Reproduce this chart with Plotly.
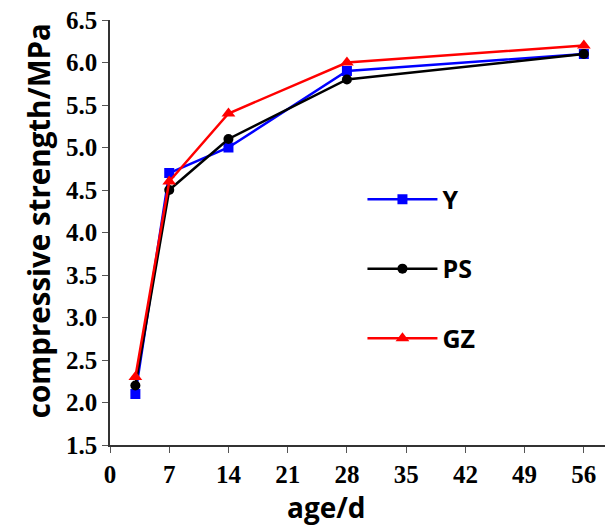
import plotly.graph_objects as go

age = [3, 7, 14, 28, 56]
y_vals = [2.1, 4.7, 5.0, 5.9, 6.1]
ps_vals = [2.2, 4.5, 5.1, 5.8, 6.1]
gz_vals = [2.3, 4.6, 5.4, 6.0, 6.2]
x_ticks = [0, 7, 14, 21, 28, 35, 42, 49, 56]
y_ticks = [1.5, 2.0, 2.5, 3.0, 3.5, 4.0, 4.5, 5.0, 5.5, 6.0, 6.5]
x_title = "age/d"
y_title = "compressive strength/MPa"

fig = go.Figure()
series = [("Y", y_vals, "#0000ff", "square", 10),
          ("PS", ps_vals, "#000000", "circle", 10),
          ("GZ", gz_vals, "#ff0000", "triangle-up", 12)]
for name, vals, col, sym, ms in series:
    fig.add_trace(go.Scatter(x=age, y=vals, name=name, mode="lines+markers",
                             line=dict(color=col, width=2.5),
                             marker=dict(color=col, symbol=sym, size=ms),
                             legendgroup=name))

tick_font = dict(family="Liberation Serif", size=25, color="black", weight="bold")

fig.update_layout(
    width=608, height=527,
    margin=dict(l=110, r=3, t=20, b=82),
    plot_bgcolor="white", paper_bgcolor="white",
    showlegend=True,
    legend=dict(x=0.51, y=0.632, xanchor="left", yanchor="top",
                font=dict(family="Open Sans", size=25, color="black", weight="bold"),
                tracegroupgap=34, itemwidth=70, bgcolor="rgba(0,0,0,0)"),
    xaxis=dict(range=[0, 58.5], tickvals=x_ticks, ticktext=[str(t) for t in x_ticks],
               showline=True, linecolor="#333", linewidth=1.5, ticks="outside",
               ticklen=6, tickcolor="#555", showgrid=False, zeroline=False,
               tickfont=tick_font),
    yaxis=dict(range=[1.5, 6.5], tickvals=y_ticks, ticktext=[f"{t:.1f}" for t in y_ticks],
               showline=True, linecolor="#333", linewidth=1.5, ticks="outside",
               ticklen=6, tickcolor="#555", showgrid=False, zeroline=False,
               tickfont=tick_font),
    annotations=[
        dict(text=x_title, xref="paper", yref="paper", x=0.438, y=-0.146,
             xanchor="center", yanchor="middle", showarrow=False,
             font=dict(family="Open Sans", size=28, color="black", weight="bold")),
        dict(text=y_title, xref="paper", yref="paper", x=-0.1455, y=0.529,
             xanchor="center", yanchor="middle", showarrow=False, textangle=-90,
             font=dict(family="Open Sans", size=29.5, color="black", weight="bold")),
    ],
)
fig.write_html("out.html")
